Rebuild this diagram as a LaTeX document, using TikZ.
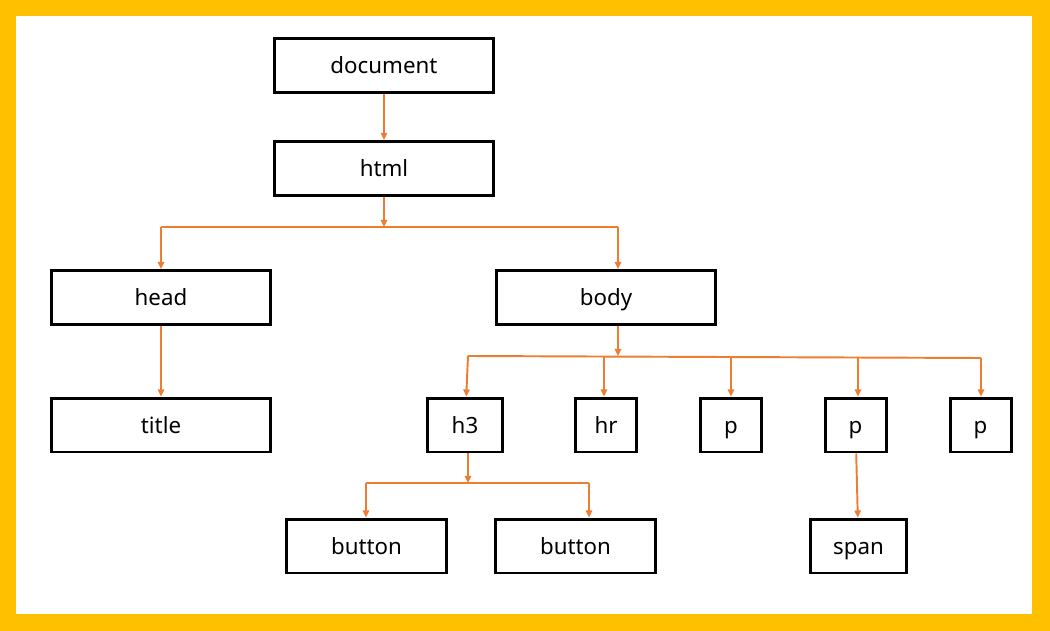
\documentclass[tikz,border=0pt]{standalone}
\usepackage{fontspec}
\setmainfont{Noto Sans}
\usetikzlibrary{arrows.meta}
\definecolor{frameyellow}{HTML}{FFC000}
\definecolor{linkorange}{HTML}{ED7D31}
\begin{document}
\begin{tikzpicture}[
    x=0.02cm, y=-0.02cm,
    box/.style={rectangle, draw, line width=1.7pt, minimum height=1.08cm, inner sep=0pt,
        text height=9.6pt, text depth=0pt, font=\fontsize{12.7}{15}\selectfont},
    wide/.style={box, minimum width=4.4cm},
    btn/.style={box, minimum width=3.2cm},
    tag/.style={box, minimum width=1.22cm},
    arrow/.style={-{Triangle[length=4pt,width=3.6pt]}, linkorange, line width=1.1pt},
    wire/.style={linkorange, line width=1.1pt}
]

% frame
\fill[frameyellow] (0,0) rectangle (1050,631);
\fill[white] (16,16) rectangle (1032,614);

% top levels
\node[wide] (document) at (384,65.5) {document};
\node[wide] (html) at (384,168.5) {html};
\node[wide] (head) at (161,297.5) {head};
\node[wide] (body) at (606,297.5) {body};
\node[wide] (title) at (161,425) {title};

% body children
\node[box, minimum width=1.5cm] (h3) at (465,425) {h3};
\node[tag] (hr) at (606,425) {hr};
\node[tag] (p1) at (731,425) {p};
\node[tag] (p2) at (855.5,425) {p};
\node[tag] (p3) at (980.5,425) {p};

% leaves
\node[btn] (button1) at (366.5,546) {button};
\node[btn] (button2) at (575.5,546) {button};
\node[box, minimum width=1.92cm] (span) at (858.5,546) {span};

% bus points
\coordinate (hl) at (161,227);
\coordinate (hr1) at (618,227);
\coordinate (bl) at (468,356);
\coordinate (bm) at (618,356);
\coordinate (bhr) at (604,356.5);
\coordinate (bp1) at (731,357);
\coordinate (bp2) at (858,357.5);
\coordinate (br) at (981,358);
\coordinate (tl) at (366,483);
\coordinate (tm) at (468,483);
\coordinate (tr) at (589,483);

% document to html
\draw[arrow] (document) -- (html);

% html to head and body
\draw[arrow] (html) -- (html |- hl);
\draw[wire] (hl) -- (hr1);
\draw[arrow] (hl) -- (head);
\draw[arrow] (hr1) -- (hr1 |- body.north);
\draw[arrow] (head) -- (title);

% body to its children
\draw[arrow] (body.south -| bm) -- (bm);
\draw[wire] (bl) -- (br);
\draw[arrow] (bl) -- (h3);
\draw[arrow] (bhr) -- (bhr |- hr.north);
\draw[arrow] (bp1) -- (bp1 |- p1.north);
\draw[arrow] (bp2) -- (bp2 |- p2.north);
\draw[arrow] (br) -- (br |- p3.north);

% h3 to buttons
\draw[arrow] (h3.south -| tm) -- (tm);
\draw[wire] (tl) -- (tr);
\draw[arrow] (tl) -- (tl |- button1.north);
\draw[arrow] (tr) -- (tr |- button2.north);

% p to span
\draw[arrow] (p2) -- (span);

\end{tikzpicture}
\end{document}
